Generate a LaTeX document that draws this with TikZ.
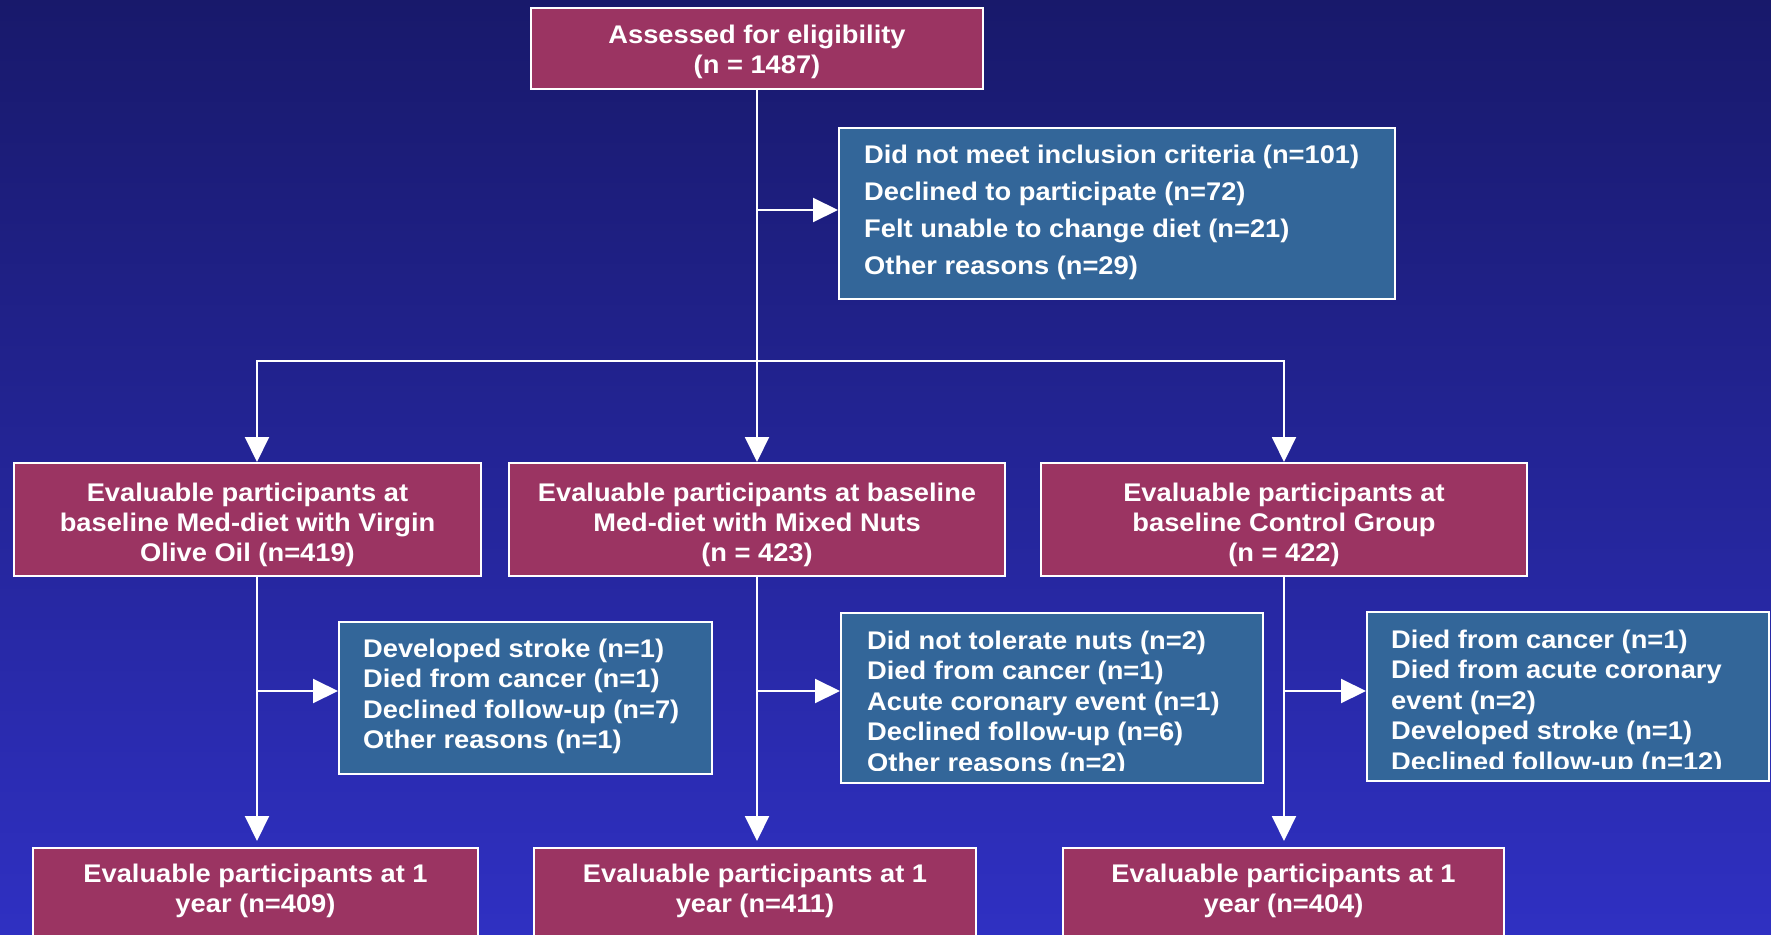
\documentclass[tikz,border=0pt]{standalone}
\usepackage{fontspec}
\setmainfont{Liberation Sans}[FakeStretch=1.07]
\usetikzlibrary{arrows.meta,calc}
\definecolor{bgtop}{RGB}{24,25,107}
\definecolor{bgbot}{RGB}{47,48,194}
\definecolor{boxred}{RGB}{155,52,98}
\definecolor{boxblue}{RGB}{51,102,153}
\tikzset{
  pbox/.style={draw=white, line width=2pt, fill=boxred, inner sep=0pt},
  bbox/.style={draw=white, line width=2pt, fill=boxblue, inner sep=0pt},
  txt/.style={text=white, inner sep=0pt, font=\bfseries\fontsize{25.5}{30}\selectfont},
  ctxt/.style={txt, align=center, anchor=base},
  ltxt/.style={txt, align=left, anchor=base west},
  flow/.style={draw=white, line width=2pt},
  arr/.style={flow, -{Triangle[length=25pt,width=24pt]}},
}
\begin{document}
\begin{tikzpicture}[x=1pt, y=-1pt]
\useasboundingbox (0,0) rectangle (1771,934);
\clip (0,0) rectangle (1771,934);
\shade[top color=bgtop, bottom color=bgbot] (0,0) rectangle (1771,934);

% boxes (text nodes are anchored at the baseline of their last line)
\node[pbox, minimum width=452pt, minimum height=81pt] (b0) at (757,48.5) {};
\node[ctxt] (t0) at (757,74) {Assessed for eligibility\\(n = 1487)};

\node[bbox, minimum width=556pt, minimum height=171pt] (e) at (1117,213.5) {};
\node[ltxt, font=\bfseries\fontsize{25.5}{37}\selectfont] (te) at (864,274)
  {Did not meet inclusion criteria (n=101)\\Declined to participate (n=72)\\Felt unable to change diet (n=21)\\Other reasons (n=29)};

\node[pbox, minimum width=467pt, minimum height=113pt] (b1) at (247.5,519.5) {};
\node[ctxt] (t1) at (247.5,561) {Evaluable participants at\\baseline Med-diet with Virgin\\Olive Oil (n=419)};
\node[pbox, minimum width=496pt, minimum height=113pt] (b2) at (757,519.5) {};
\node[ctxt] (t2) at (757,561) {Evaluable participants at baseline\\Med-diet with Mixed Nuts\\(n = 423)};
\node[pbox, minimum width=486pt, minimum height=113pt] (b3) at (1284,519.5) {};
\node[ctxt] (t3) at (1284,561) {Evaluable participants at\\baseline Control Group\\(n = 422)};

\node[bbox, minimum width=373pt, minimum height=152pt] (s1) at (525.5,698) {};
\node[ltxt, font=\bfseries\fontsize{25.5}{30.5}\selectfont] (ts1) at (363,748.5)
  {Developed stroke (n=1)\\Died from cancer (n=1)\\Declined follow-up (n=7)\\Other reasons (n=1)};

\node[bbox, minimum width=422pt, minimum height=170pt] (s2) at (1052,698) {};
\begin{scope}
\clip (841,613) rectangle (1263,770);
\node[ltxt, font=\bfseries\fontsize{25.5}{30.5}\selectfont] (ts2) at (867,771)
  {Did not tolerate nuts (n=2)\\Died from cancer (n=1)\\Acute coronary event (n=1)\\Declined follow-up (n=6)\\Other reasons (n=2)};
\end{scope}

\node[bbox, minimum width=402pt, minimum height=169pt] (s3) at (1568,696.5) {};
\begin{scope}
\clip (1367,612) rectangle (1769,768);
\node[ltxt, font=\bfseries\fontsize{25.5}{30.5}\selectfont] (ts3) at (1391,770)
  {Died from cancer (n=1)\\Died from acute coronary\\event (n=2)\\Developed stroke (n=1)\\Declined follow-up (n=12)};
\end{scope}

\node[pbox, minimum width=445pt, minimum height=112pt] (c1) at (255.5,904) {};
\node[ctxt] (u1) at (255.5,912) {Evaluable participants at 1\\year (n=409)};
\node[pbox, minimum width=442pt, minimum height=112pt] (c2) at (755,904) {};
\node[ctxt] (u2) at (755,912) {Evaluable participants at 1\\year (n=411)};
\node[pbox, minimum width=441pt, minimum height=112pt] (c3) at (1283.5,904) {};
\node[ctxt] (u3) at (1283.5,912) {Evaluable participants at 1\\year (n=404)};

% junction points
\coordinate (j0) at (757,210);
\coordinate (jm) at (757,361);
\coordinate (hl) at (257,361);
\coordinate (hr) at (1284,361);
\coordinate (kl) at (257,691);
\coordinate (km) at (757,691);
\coordinate (kr) at (1284,691);

% connectors
\draw[flow] (b0.south) -- (jm);
\draw[arr] (j0) -- (j0 -| e.west);
\draw[flow, line cap=rect] (hl) -- (hr);
\draw[arr] (hl) -- (hl |- b1.north);
\draw[arr] (jm) -- (b2.north);
\draw[arr] (hr) -- (hr |- b3.north);

\draw[arr, shorten >=6pt] (hl |- b1.south) -- (hl |- c1.north);
\draw[arr, shorten >=6pt] (km |- b2.south) -- (km |- c2.north);
\draw[arr, shorten >=6pt] (hr |- b3.south) -- (hr |- c3.north);

\draw[arr] (kl) -- (kl -| s1.west);
\draw[arr] (km) -- (km -| s2.west);
\draw[arr] (kr) -- (kr -| s3.west);
\end{tikzpicture}
\end{document}
